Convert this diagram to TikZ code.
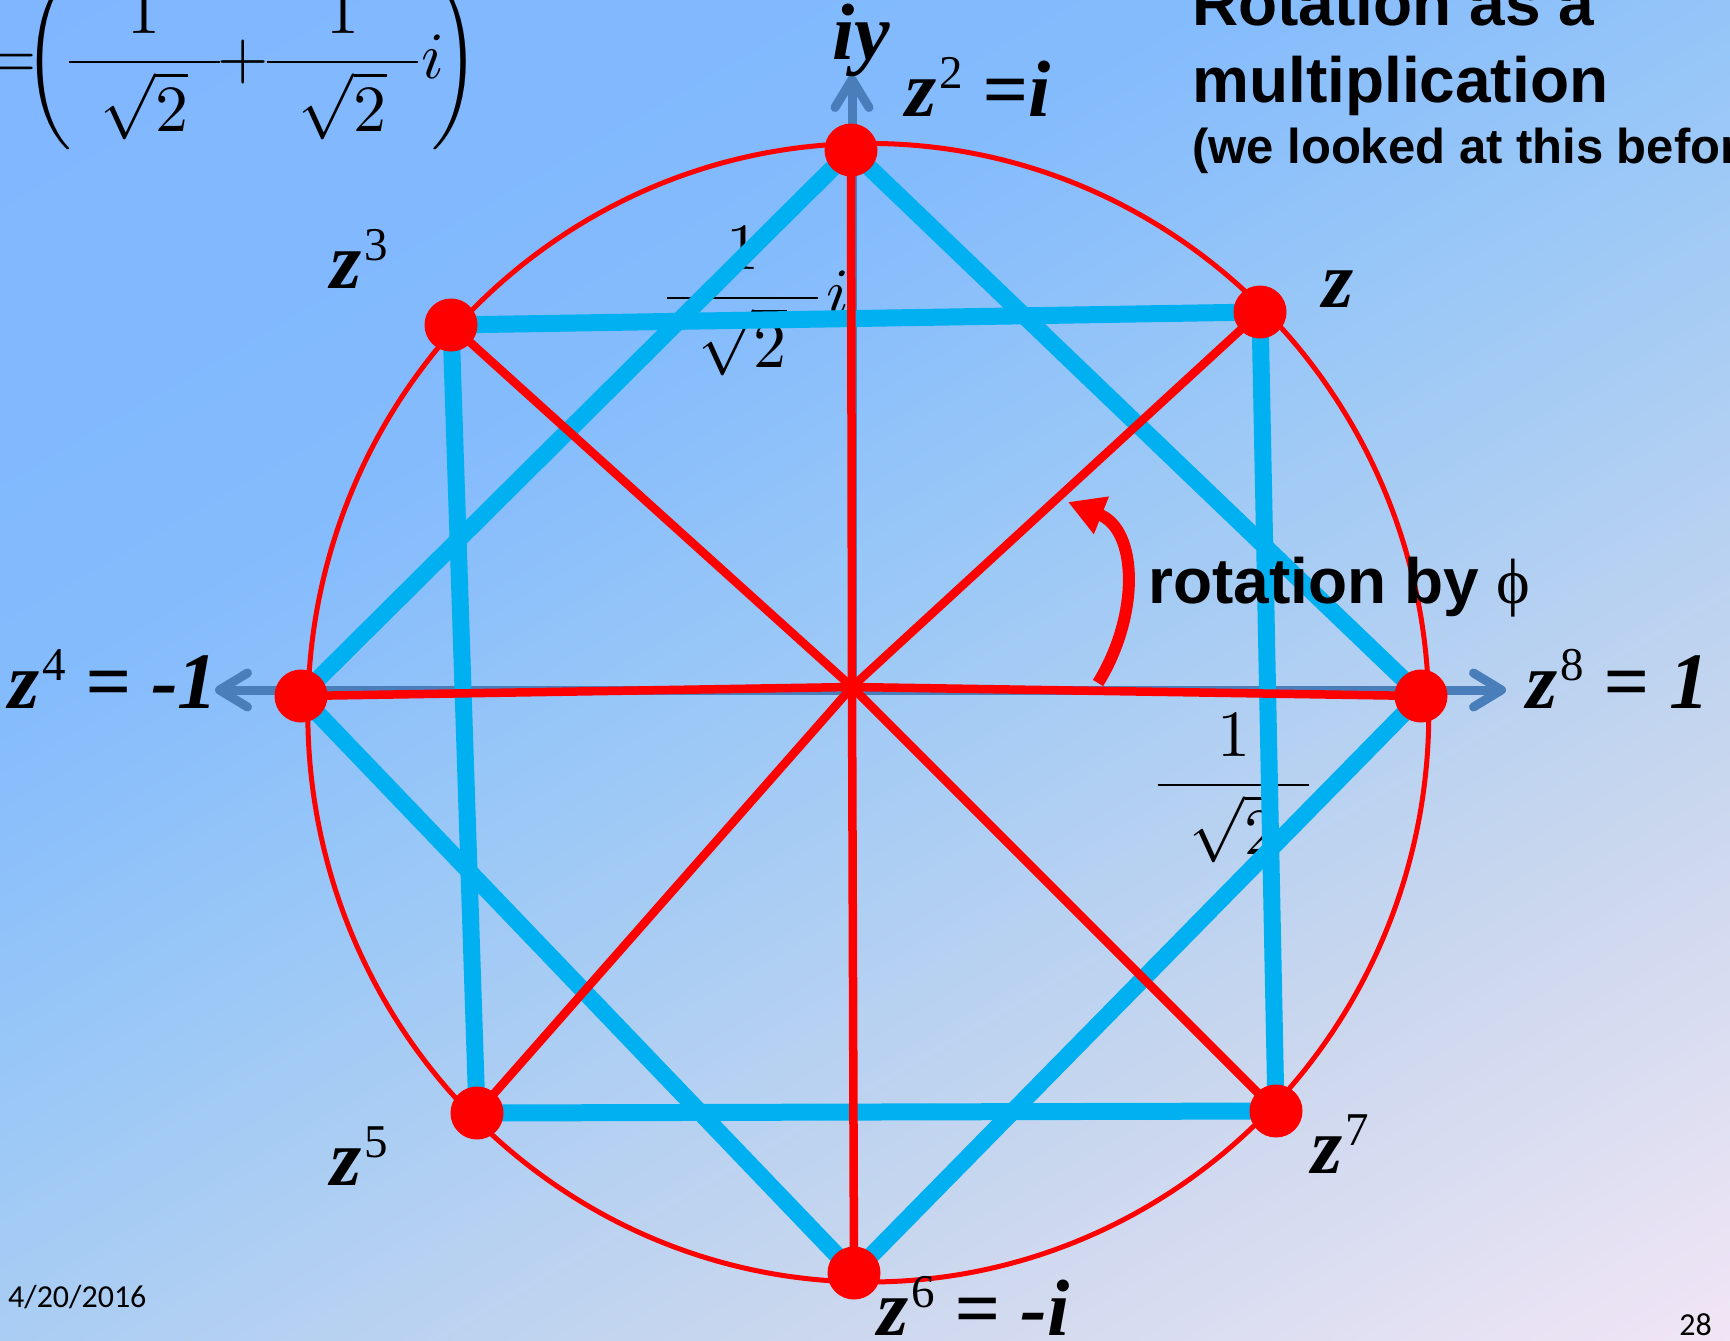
\documentclass[tikz,border=0pt]{standalone}
\usepackage{fontspec}
\newfontfamily\tnr{Liberation Serif}
\newfontfamily\arialf{Liberation Sans}
\newfontfamily\calib{Carlito}
\usetikzlibrary{arrows.meta}
\definecolor{bgA}{RGB}{128,182,255}
\definecolor{bgB}{RGB}{131,187,253}
\definecolor{bgC}{RGB}{157,201,246}
\definecolor{bgD}{RGB}{202,215,238}
\definecolor{bgE}{RGB}{242,230,246}
\definecolor{lineblue}{RGB}{0,176,240}
\definecolor{axisblue}{RGB}{74,126,187}
\newcommand{\myfrac}{\frac{1}{\hspace{4.8pt}\sqrt{2}\hspace{4.8pt}}}
\newcommand{\bigmath}[1]{\scalebox{6.6}{#1}}
\newcommand{\lpar}{\raisebox{-0.27pt}{\scalebox{1}[1.106]{$\left(\vcenter{\hrule height 26.5pt width 0pt}\right.$}}}
\newcommand{\rpar}{\raisebox{-0.27pt}{\scalebox{1}[1.106]{$\left.\vcenter{\hrule height 26.5pt width 0pt}\right)$}}}
\newcommand{\zsup}[1]{\kern3pt\raisebox{28pt}{\fontsize{47}{47}\selectfont\mdseries\upshape #1}}
\begin{document}
\begin{tikzpicture}[x=1pt,y=-1pt,
  zlab/.style={anchor=base west, inner sep=0pt, font=\fontsize{80}{94}\selectfont\tnr\bfseries\itshape},
  mathbig/.style={inner sep=0pt},
  titlefont/.style={anchor=base west, inner sep=0pt, font=\fontsize{64}{76}\selectfont\arialf\bfseries},
  blueline/.style={lineblue, line width=17pt, line cap=round},
  redspoke/.style={red, line width=8.5pt},
  axisline/.style={axisblue, line width=9pt},
  dot/.style={circle, fill=red, inner sep=0pt, minimum size=53pt}
]
\useasboundingbox (0,0) rectangle (1730,1341);
\clip (0,0) rectangle (1730,1341);
% background gradient
\begin{scope}[transform canvas={rotate=-60}]
  \fill[bgA] (-300,-2500) rectangle (601,2500);
  \shade[left color=bgA, right color=bgB] (0,-2500) rectangle (601,2500);
  \shade[left color=bgB, right color=bgC] (600,-2500) rectangle (1001,2500);
  \shade[left color=bgC, right color=bgD] (1000,-2500) rectangle (1551,2500);
  \shade[left color=bgD, right color=bgE] (1550,-2500) rectangle (2040,2500);
  \fill[bgE] (2039,-2500) rectangle (2400,2500);
\end{scope}

% formula top left (one text)
\node[mathbig, anchor=base west] (zformula) at (0,78.5) {\bigmath{\hbox{%
  \kern1.67pt\makebox[0pt]{$=$}%
  \kern6.21pt\makebox[0pt]{\lpar}%
  \kern13.94pt\makebox[0pt]{$\displaystyle\myfrac$}%
  \kern15pt\makebox[0pt]{$+$}%
  \kern15.07pt\makebox[0pt]{$\displaystyle\myfrac$}%
  \kern11.9pt\makebox[0pt][l]{$i$}%
  \kern4.69pt\makebox[0pt]{\rpar}%
  \kern2.5pt}}};

% fractions under the lines
\node[mathbig, anchor=base west] (fracim) at (659,314.5) {\bigmath{$\displaystyle\myfrac i$}};
\node[mathbig, anchor=base] (fracre) at (1233.5,801.5) {\bigmath{$\displaystyle\myfrac$}};

% points
\coordinate (O) at (852,687);
\coordinate (p1) at (1260,312);
\coordinate (p2) at (851,150);
\coordinate (p3) at (451,325);
\coordinate (p4) at (301,696);
\coordinate (p5) at (477,1113);
\coordinate (p6) at (854,1273);
\coordinate (p7) at (1276,1111);
\coordinate (p8) at (1421,696);
\coordinate (axL) at (215,690);
\coordinate (axR) at (1506,690);
\coordinate (axT) at (852,75);

% circle
\draw[red, line width=5pt] (868.3,712.7) ellipse [x radius=560.5, y radius=569.3];

% axes
\draw[axisline, {Straight Barb[length=28pt,width=34pt,round]}-{Straight Barb[length=28pt,width=34pt,round]}] (axL) -- (axR);
\draw[axisline, -{Straight Barb[length=28pt,width=34pt,round]}] (O) -- (axT);

% blue squares
\draw[blueline] (p2) -- (p4) -- (p6) -- (p8) -- cycle;
\draw[blueline] (p3) -- (p1) -- (p7) -- (p5) -- cycle;

% red spokes
\foreach \k in {1,...,8} { \draw[redspoke] (O) -- (p\k); }

% rotation arrow
\coordinate (rotS) at (1098,683);
\coordinate (rotE) at (1068,502);
\draw[red, line width=12pt, -{Triangle[length=36pt,width=38pt]}] (rotS) .. controls (1140,615) and (1138,530) .. (rotE);

% dots
\foreach \k in {1,...,8} { \node[dot] (d\k) at (p\k) {}; }

% labels
\node[zlab] (liy) at (832,59) {iy};
\node[zlab] (l2) at (905,116) {z\zsup{2} =i};
\node[zlab] (l1) at (1322,307) {z};
\node[zlab] (l3) at (330,288) {z\zsup{3}};
\node[zlab] (l4) at (8,708) {z\zsup{4} = -1};
\node[zlab] (l8) at (1526,708) {z\zsup{8} = 1};
\node[zlab] (l5) at (330,1185) {z\zsup{5}};
\node[zlab] (l7) at (1311,1173) {z\zsup{7}};
\node[zlab] (l6) at (877,1335) {z\zsup{6} = -i};

\node[anchor=base west, inner sep=0pt, font=\fontsize{64}{76}\selectfont\arialf\bfseries] (rotlab) at (1148,603) {rotation by {\tnr\mdseries ϕ}};

% title
\node[titlefont] (t1) at (1192,25) {Rotation as a};
\node[titlefont] (t2) at (1192,102) {multiplication};
\node[anchor=base west, inner sep=0pt, font=\fontsize{49}{58}\selectfont\arialf\bfseries] (t3) at (1192,163) {(we looked at this before)};

% footer
\node[anchor=base west, inner sep=0pt, font=\fontsize{32}{38}\selectfont\calib] (date) at (8,1307) {4/20/2016};
\node[anchor=base east, inner sep=0pt, font=\fontsize{32}{38}\selectfont\calib] (pnum) at (1712,1335) {28};
\end{tikzpicture}
\end{document}
